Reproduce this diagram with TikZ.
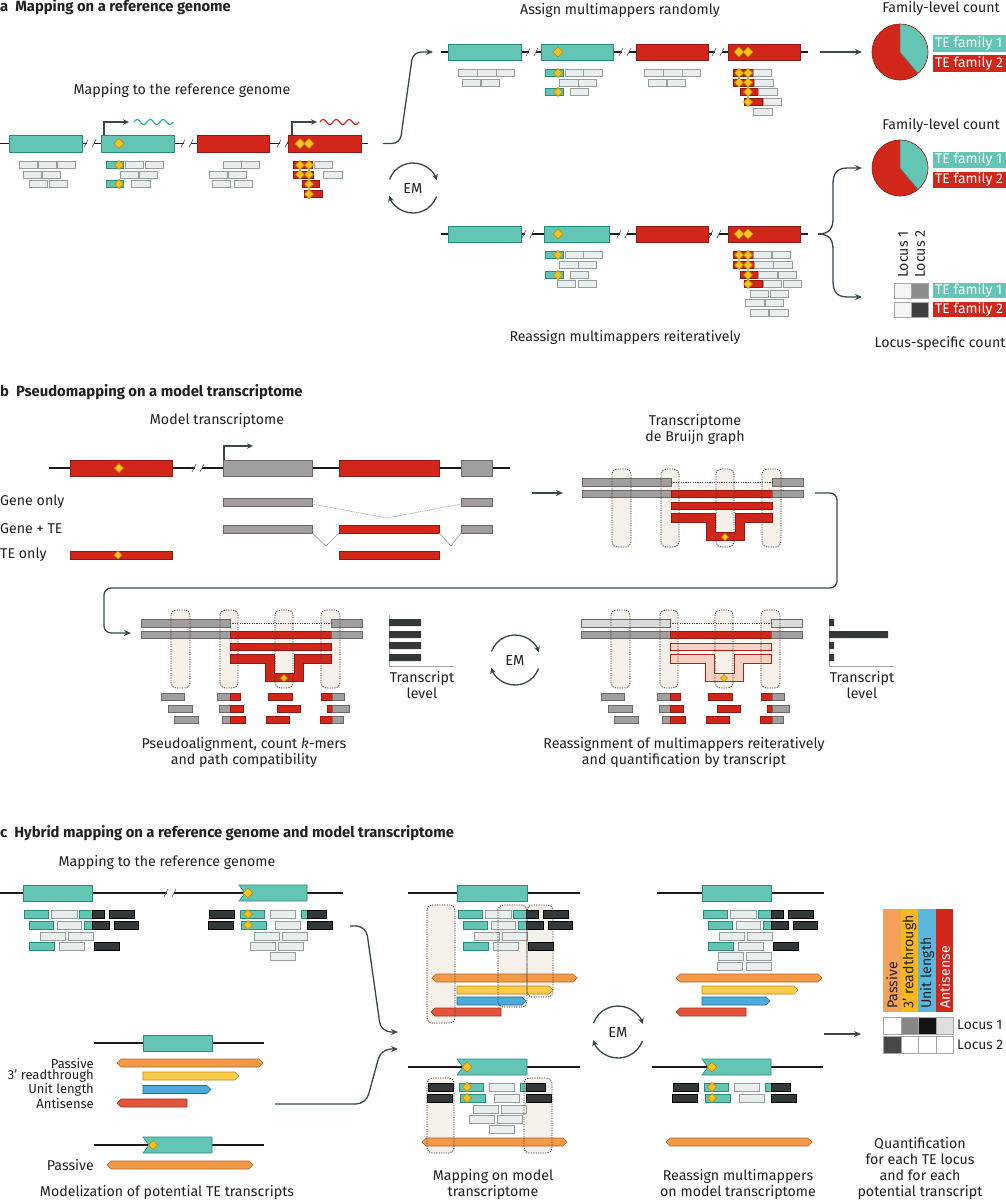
\documentclass[tikz,border=0pt]{standalone}
\usepackage{fontspec}
\setmainfont{Fira Sans}
\usetikzlibrary{arrows.meta}
\definecolor{tealF}{HTML}{63C6B5}
\definecolor{tealD}{HTML}{2A8A7C}
\definecolor{tealW}{HTML}{25B09E}
\definecolor{redF}{HTML}{D3261B}
\definecolor{redD}{HTML}{8E1A12}
\definecolor{grayF}{HTML}{A39E9E}
\definecolor{grayD}{HTML}{6E6969}
\definecolor{lgrayF}{HTML}{DCDADA}
\definecolor{lreadF}{HTML}{E9EFEF}
\definecolor{lreadD}{HTML}{979D9F}
\definecolor{darkF}{HTML}{33393B}
\definecolor{yelF}{HTML}{F7C31E}
\definecolor{yelD}{HTML}{B58700}
\definecolor{lineC}{HTML}{37474A}
\definecolor{beige}{HTML}{F5F0EA}
\definecolor{pinkF}{HTML}{F9D2C6}
\definecolor{orF}{HTML}{F39A48}
\definecolor{orD}{HTML}{B5642A}
\definecolor{ylF}{HTML}{FCCB47}
\definecolor{ylD}{HTML}{B08A1E}
\definecolor{blF}{HTML}{4DAADC}
\definecolor{blD}{HTML}{2A6A90}
\definecolor{rdaF}{HTML}{E3543A}
\definecolor{rdaD}{HTML}{9E3420}
\definecolor{txtC}{HTML}{231F20}
\definecolor{mPas}{HTML}{F4A259}
\definecolor{mRea}{HTML}{F6B81A}
\definecolor{mUni}{HTML}{5DB7DC}
\tikzset{
 gline/.style={line width=1.3pt, draw=black!90},
 tb/.style={fill=tealF, draw=tealD, line width=0.6pt},
 rb/.style={fill=redF, draw=redD, line width=0.6pt},
 gb/.style={fill=grayF, draw=grayD, line width=0.6pt},
 lgb/.style={fill=lgrayF, draw=grayD, line width=0.6pt},
 pkb/.style={fill=pinkF, draw=redF!85!black, line width=0.6pt},
 lr/.style={fill=lreadF, draw=lreadD, line width=0.6pt},
 dr/.style={fill=darkF, draw=black, line width=0.6pt},
 diam/.style={fill=yelF, draw=yelD, line width=0.5pt},
 conn/.style={draw=lineC, line width=1.3pt, -{Stealth[length=7pt,width=6pt]}},
 prom/.style={draw=lineC, line width=1.2pt, -{Stealth[length=6pt,width=5.5pt]}},
 emarc/.style={draw=lineC, line width=1.3pt, -{Stealth[length=6pt,width=6pt]}},
 txt/.style={font=\fontsize{14.2}{16}\selectfont, text=txtC, inner sep=0pt},
 mlab/.style={font=\fontsize{13}{13}\selectfont, text=txtC, inner sep=0pt, anchor=east},
 head/.style={font=\bfseries\fontsize{14.8}{16}\selectfont, text=txtC, inner sep=0pt, anchor=west},
 wlab/.style={font=\fontsize{14}{15}\selectfont, text=white, inner sep=0pt, anchor=west},
 beig/.style={fill=beige, rounded corners=5pt},
 dotr/.style={draw=black!75, dash pattern=on 1.2pt off 1.2pt, line width=0.8pt, rounded corners=5pt},
 dotl/.style={draw=black!75, dash pattern=on 1.2pt off 1.2pt, line width=0.7pt},
 vline/.style={draw=gray!80, line width=0.6pt},
 gdot/.style={draw=gray!80, dash pattern=on 1pt off 0.8pt, line width=0.6pt},
 slash/.style={draw=black!70, line width=0.6pt},
 ortr/.style={fill=orF, draw=orD, line width=0.6pt},
 yltr/.style={fill=ylF, draw=ylD, line width=0.6pt},
 bltr/.style={fill=blF, draw=blD, line width=0.6pt},
 rdtr/.style={fill=rdaF, draw=rdaD, line width=0.6pt},
 cell/.style={draw=gray!70, line width=0.6pt},
}
\def\hh{3.3}
\newcommand\Mbx[4]{\path[#1] (#2,#4-\hh) rectangle (#3,#4+\hh);}
\newcommand\Mblk[5]{\path[#1] (#2,#4) rectangle (#3,#5);}
\newcommand\Mnblk[5]{\path[#1] (#2,#4) -- (#3,#4) -- (#3,#5) -- (#2,#5) -- (#2+6,{(#4+#5)/2}) -- cycle;}
\newcommand\Mdia[3]{\path[diam] (#1,#2-#3) -- (#1+#3,#2) -- (#1,#2+#3) -- (#1-#3,#2) -- cycle;}
\newcommand\Mbrk[2]{\fill[white] (#1-3.5,#2-2) rectangle (#1+3.5,#2+2); \draw[slash] (#1-6,#2+4) -- (#1-2,#2-4) (#1+2,#2+4) -- (#1+6,#2-4);}
\newcommand\MtLR[4]{\path[#1] (#2,#4) -- (#2+4,#4-4) -- (#3-4,#4-4) -- (#3,#4) -- (#3-4,#4+4) -- (#2+4,#4+4) -- cycle;}
\newcommand\MtR[4]{\path[#1] (#2,#4-4) -- (#3-4,#4-4) -- (#3,#4) -- (#3-4,#4+4) -- (#2,#4+4) -- cycle;}
\newcommand\MtL[4]{\path[#1] (#2,#4) -- (#2+4,#4-4) -- (#3,#4-4) -- (#3,#4+4) -- (#2+4,#4+4) -- cycle;}
\newcommand\Mem[4]{\node[txt,font=\fontsize{14.5}{16}\selectfont] (#1) at (#2,#3) {EM};
 \draw[emarc] (#2,#3) ++(160:#4 pt) arc[start angle=160,end angle=18,radius=#4 pt];
 \draw[emarc] (#2,#3) ++(-20:#4 pt) arc[start angle=-20,end angle=-162,radius=#4 pt];}
\newcommand\Mpie[2]{\fill[redF] (#1,#2) circle[radius=28pt];
 \fill[tealF] (#1,#2) -- ++(90:28pt) arc[start angle=90,end angle=-50,radius=28pt] -- cycle;
 \draw[redD,line width=0.6pt] (#1,#2) circle[radius=28pt];
 \draw[tealD,line width=0.5pt] (#1,#2) ++(90:28pt) -- (#1,#2) -- ++(-50:28pt);}
\newcommand\Mgraph[2]{%
 \foreach \xa/\xb in {612/631,661/679,716/734,762/781}{\path[beig] (\xa,469) rectangle (\xb,547);}
 \Mblk{#1}{582}{671}{478}{486}\Mblk{#1}{772}{803}{478}{486}
 \draw[dotl] (671,482) -- (772,482);
 \Mblk{gb}{582}{671}{490}{497}\Mblk{rb}{671}{772}{490}{497}\Mblk{gb}{772}{803}{490}{497}
 \Mblk{#2}{671}{772}{502}{509}
 \path[#2] (671,513) -- (715,513) -- (715,532) -- (735,532) -- (735,513) -- (772,513) -- (772,522) -- (744,522) -- (744,540) -- (706,540) -- (706,522) -- (671,522) -- cycle;
 \Mdia{725}{537}{3.5}
 \foreach \xa/\xb in {612/631,661/679,716/734,762/781}{\path[dotr] (\xa,469) rectangle (\xb,547);}
}
\newcommand\Mbreads{%
 \Mbx{gb}{161}{184}{697}\Mbx{gb}{168}{192}{709}\Mbx{gb}{174}{198}{720}
 \Mbx{gb}{217}{230}{697}\Mbx{rb}{230}{240}{697}
 \Mbx{gb}{219}{230}{709}\Mbx{rb}{230}{243}{709}
 \Mbx{gb}{222}{230}{720}\Mbx{rb}{230}{245}{720}
 \Mbx{rb}{268}{292}{697}\Mbx{rb}{277}{300}{709}\Mbx{rb}{266}{289}{720}
 \Mbx{rb}{321}{332}{697}\Mbx{gb}{332}{344}{697}
 \Mbx{rb}{327}{332}{709}\Mbx{gb}{332}{349}{709}
 \Mbx{rb}{320}{332}{720}\Mbx{gb}{332}{343}{720}}
\newcommand\McA{%
 \Mbx{tb}{24}{48}{914}\Mbx{lr}{51}{77}{914}\Mbx{tb}{79}{92}{914}\Mbx{dr}{92}{104}{914}\Mbx{dr}{109}{134}{914}
 \Mbx{tb}{29}{53}{925}\Mbx{lr}{57}{81}{925}\Mbx{tb}{84}{92}{925}\Mbx{dr}{92}{109}{925}\Mbx{dr}{114}{138}{925}
 \Mbx{lr}{40}{65}{936}\Mbx{lr}{68}{93}{936}
 \Mbx{tb}{29}{54}{946}\Mbx{lr}{59}{84}{946}\Mbx{dr}{94}{119}{946}}
\newcommand\McBt{%
 \Mbx{dr}{209}{234}{914}\Mbx{tb}{240}{264}{914}\Mdia{248}{914}{4.5}\Mbx{lr}{270}{295}{914}\Mbx{tb}{301}{307}{914}\Mbx{dr}{307}{326}{914}
 \Mbx{dr}{208}{233}{925}\Mbx{tb}{241}{266}{925}\Mdia{248}{925}{4.5}\Mbx{lr}{275}{300}{925}\Mbx{dr}{307}{332}{925}}
\newcommand\McBb{%
 \Mbx{lr}{254}{279}{936}\Mbx{lr}{282}{307}{936}
 \Mbx{lr}{250}{275}{946}\Mbx{lr}{278}{303}{946}
 \Mbx{lr}{270}{295}{956}}
\begin{document}
\begin{tikzpicture}[x=1pt,y=-1pt]
\fill[white] (0,0) rectangle (1006,1200);
\useasboundingbox (0,0) rectangle (1006,1200);
%%%%%%%%%%%%%%%%%%%% a
\node[head] (hA) at (0,7) {a\hspace{7pt}Mapping on a reference genome};
\node[txt] (tA1) at (182,90) {Mapping to the reference genome};
\node[txt] (tA2) at (620,10) {Assign multimappers randomly};
\node[txt] (tA3) at (625,337) {Reassign multimappers reiteratively};
\node[txt] (tA4) at (941,8) {Family-level count};
\node[txt] (tA5) at (941,125) {Family-level count};
\node[txt] (tA6) at (940,343) {Locus-specific count};
% left genome
\draw[gline] (0,143.5) -- (368,143.5);
\Mbrk{90}{143.5}\Mbrk{187}{143.5}\Mbrk{283}{143.5}
\Mblk{tb}{9}{82}{135}{152}\Mblk{tb}{101}{174}{135}{152}
\Mblk{rb}{197}{269}{135}{152}\Mblk{rb}{288}{361}{135}{152}
\Mdia{119}{143.5}{5}\Mdia{300}{143.5}{5}\Mdia{309}{143.5}{5}
\draw[prom] (104,135) |- (129,122);
\draw[prom] (292,135) |- (317,122);
\draw[tealW,line width=1.2pt] plot[domain=0:39,samples=60] ({134+\x},{122-2.5*sin(\x*360/13)});
\draw[redF,line width=1.2pt] plot[domain=0:39,samples=60] ({320+\x},{122-2.5*sin(\x*360/13)});
\Mbx{lr}{19}{37}{165}\Mbx{lr}{38}{56}{165}\Mbx{lr}{57}{75}{165}
\Mbx{lr}{23}{41}{174.5}\Mbx{lr}{42}{60}{174.5}
\Mbx{lr}{29}{47}{184}\Mbx{lr}{49}{67}{184}
\Mbx{tb}{106}{123}{165}\Mdia{119}{165}{4.5}\Mbx{lr}{125}{143}{165}\Mbx{lr}{145}{163}{165}
\Mbx{lr}{120}{138}{174.5}\Mbx{lr}{139}{157}{174.5}
\Mbx{tb}{106}{123}{184}\Mdia{119}{184}{4.5}\Mbx{lr}{131}{150}{184}
\Mbx{lr}{223}{241}{165}\Mbx{lr}{241}{259}{165}
\Mbx{lr}{209}{227}{174.5}\Mbx{lr}{228}{246}{174.5}
\Mbx{lr}{212}{230}{184}\Mbx{lr}{234}{252}{184}
\Mbx{rb}{293}{312}{165}\Mdia{300}{165}{4.5}\Mdia{309}{165}{4.5}\Mbx{lr}{314}{332}{165}
\Mbx{rb}{293}{313}{174.5}\Mdia{300}{174.5}{4.5}\Mdia{309}{174.5}{4.5}\Mbx{lr}{323}{342}{174.5}
\Mbx{rb}{302}{319}{184}\Mdia{309}{184}{4.5}
\Mbx{rb}{304}{322}{194}\Mdia{309}{194}{4.5}
% arrow to top
\coordinate (aS) at (383,143.5);
\coordinate (aE) at (433,52);
\draw[conn,rounded corners=8pt] (aS) -- (400,143.5) -- (413,52) -- (aE);
% top genome
\draw[gline] (441,52) -- (808,52);
\Mbrk{532}{52}\Mbrk{625}{52}\Mbrk{718}{52}
\Mblk{tb}{448}{521}{44}{60}\Mblk{tb}{541}{613}{44}{60}
\Mblk{rb}{636}{708}{44}{60}\Mblk{rb}{728}{800}{44}{60}
\Mdia{558}{52}{5}\Mdia{739}{52}{5}\Mdia{748}{52}{5}
\Mbx{lr}{458}{477}{73}\Mbx{lr}{477}{496}{73}\Mbx{lr}{496}{514}{73}
\Mbx{lr}{462}{480}{82.5}\Mbx{lr}{481}{499}{82.5}
\Mbx{tb}{545}{563}{73}\Mdia{558}{73}{4.5}\Mbx{lr}{565}{583}{73}\Mbx{lr}{583}{602}{73}
\Mbx{lr}{559}{578}{82.5}\Mbx{lr}{578}{596}{82.5}
\Mbx{tb}{545}{563}{92}\Mdia{558}{92}{4.5}\Mbx{lr}{570}{588}{92}
\Mbx{lr}{644}{663}{73}\Mbx{lr}{663}{682}{73}\Mbx{lr}{682}{700}{73}
\Mbx{lr}{648}{666}{82.5}\Mbx{lr}{667}{685}{82.5}
\Mbx{rb}{733}{753}{73}\Mdia{739}{73}{4.5}\Mdia{748}{73}{4.5}\Mbx{lr}{753}{771}{73}
\Mbx{rb}{733}{754}{82.5}\Mdia{739}{82.5}{4.5}\Mdia{748}{82.5}{4.5}\Mbx{lr}{754}{773}{82.5}
\Mbx{rb}{740}{758}{92}\Mdia{748}{92}{4.5}\Mbx{lr}{758}{777}{92}
\Mbx{rb}{744}{762}{102}\Mdia{748}{102}{4.5}\Mbx{lr}{763}{781}{102}
\Mbx{lr}{753}{772}{112}
% bottom genome
\draw[gline] (441,234) -- (808,234);
\Mbrk{528}{234}\Mbrk{623}{234}\Mbrk{715}{234}
\Mblk{tb}{448}{521}{226}{242}\Mblk{tb}{544}{609}{226}{242}
\Mblk{rb}{636}{708}{226}{242}\Mblk{rb}{728}{800}{226}{242}
\Mdia{558}{234}{5}\Mdia{739}{234}{5}\Mdia{748}{234}{5}
\Mbx{tb}{545}{563}{255}\Mdia{558}{255}{4.5}\Mbx{lr}{565}{583}{255}\Mbx{lr}{583}{602}{255}
\Mbx{lr}{559}{578}{265}\Mbx{lr}{578}{596}{265}
\Mbx{tb}{545}{563}{275}\Mdia{558}{275}{4.5}\Mbx{lr}{570}{588}{275}
\Mbx{lr}{557}{575}{284}\Mbx{lr}{578}{596}{284}
\Mbx{rb}{733}{753}{255}\Mdia{739}{255}{4.5}\Mdia{748}{255}{4.5}\Mbx{lr}{753}{771}{255}\Mbx{lr}{772}{790}{255}
\Mbx{rb}{733}{754}{265}\Mdia{739}{265}{4.5}\Mdia{748}{265}{4.5}\Mbx{lr}{754}{773}{265}\Mbx{lr}{773}{792}{265}
\Mbx{rb}{740}{758}{275}\Mdia{748}{275}{4.5}\Mbx{lr}{758}{777}{275}\Mbx{lr}{778}{796}{275}
\Mbx{rb}{744}{762}{284}\Mdia{748}{284}{4.5}\Mbx{lr}{763}{781}{284}\Mbx{lr}{783}{801}{284}
\Mbx{lr}{750}{768}{294}\Mbx{lr}{770}{788}{294}
\Mbx{lr}{745}{764}{303}\Mbx{lr}{765}{783}{303}
\Mbx{lr}{750}{768}{313}\Mbx{lr}{769}{788}{313}
\Mem{emA}{413}{188}{25}
% right side
\coordinate (pS) at (820,52); \coordinate (pE) at (862,52);
\draw[conn] (pS) -- (pE);
\Mpie{900}{52}
\Mpie{900}{168}
\fill[tealF] (933,35) rectangle (1006,52); \node[wlab] (f1a) at (935,43.5) {TE family 1};
\fill[redF] (933,55) rectangle (1006,72); \node[wlab] (f2a) at (935,63.5) {TE family 2};
\fill[tealF] (933,152) rectangle (1006,168); \node[wlab] (f1b) at (935,160) {TE family 1};
\fill[redF] (933,172) rectangle (1006,188); \node[wlab] (f2b) at (935,180) {TE family 2};
\fill[tealF] (933,283) rectangle (1006,298); \node[wlab] (f1c) at (935,290.5) {TE family 1};
\fill[redF] (933,302) rectangle (1006,317); \node[wlab] (f2c) at (935,309.5) {TE family 2};
\path[cell,fill=gray!8] (894,283) rectangle (911,298);
\path[cell,fill=gray!90] (911,283) rectangle (928,298);
\path[cell,fill=gray!8] (894,302) rectangle (911,317);
\path[cell,fill=black!75] (911,302) rectangle (928,317);
\node[txt,rotate=90,anchor=west] (loc1) at (903,278) {Locus 1};
\node[txt,rotate=90,anchor=west] (loc2) at (920,278) {Locus 2};
\coordinate (bS) at (818,234);
\draw[conn] (bS) .. controls (830,234) and (833,228) .. (833,218) -- (833,184) .. controls (833,172) and (838,168) .. (848,168) -- (862,168);
\draw[conn] (bS) .. controls (830,234) and (833,240) .. (833,250) -- (833,281) .. controls (833,293) and (838,297) .. (848,297) -- (862,297);
%%%%%%%%%%%%%%%%%%%% b
\node[head] (hB) at (0,392) {b\hspace{7pt}Pseudomapping on a model transcriptome};
\node[txt] (tB1) at (217,420) {Model transcriptome};
\draw[gline] (49,468) -- (510,468);
\Mbrk{198}{468}
\Mblk{rb}{70}{172}{460}{476}\Mdia{119}{468}{4.5}
\Mblk{gb}{223}{312}{460}{476}\Mblk{rb}{339}{439}{460}{476}\Mblk{gb}{461}{492}{460}{476}
\draw[prom] (224,460) |- (253,446);
\node[txt,anchor=west] (gO) at (0,502) {Gene only};
\node[txt,anchor=west] (gT) at (0,529) {Gene + TE};
\node[txt,anchor=west] (tO) at (0,555) {TE only};
\Mblk{gb}{223}{312}{498}{506}\Mblk{gb}{461}{492}{498}{506}
\draw[gdot] (312,504) -- (387,518) -- (461,504);
\Mblk{gb}{223}{312}{525}{533}\Mblk{rb}{339}{439}{525}{533}\Mblk{gb}{461}{492}{525}{533}
\draw[vline] (312,533) -- (326,546) -- (339,533) (439,533) -- (451,546) -- (461,533);
\Mblk{rb}{70}{172}{551}{559}\Mdia{118}{555}{4}
\Mblk{rb}{339}{439}{551}{559}
\coordinate (cS) at (532,493); \coordinate (cE) at (563,493);
\draw[conn] (cS) -- (cE);
\node[txt,align=center] (tB2) at (695,429) {Transcriptome\\de Bruijn graph};
\Mgraph{gb}{rb}
\coordinate (dS) at (815,493); \coordinate (dE) at (131,633);
\draw[conn,rounded corners=7pt] (dS) -- (837,493) -- (837,588) -- (104,588) -- (104,633) -- (dE);
\begin{scope}[shift={(-441,141)}]\Mgraph{gb}{rb}\end{scope}
\begin{scope}[shift={(-1,141)}]\Mgraph{lgb}{pkb}\end{scope}
\def\hh{3.6}
\Mbreads
\begin{scope}[shift={(440,0)}]\Mbreads\end{scope}
% transcript levels
\draw[draw=gray!70,line width=0.8pt] (389,615) -- (389,666) -- (454,666);
\fill[darkF] (389,619) rectangle (421,626) (389,631) rectangle (421,638) (389,642) rectangle (421,649) (389,654) rectangle (421,661);
\node[txt,align=center] (tl1) at (422,685) {Transcript\\level};
\draw[draw=gray!70,line width=0.8pt] (829,615) -- (829,666) -- (894,666);
\fill[darkF] (829,619) rectangle (834,626) (829,631) rectangle (888,638) (829,642) rectangle (834,649) (829,654) rectangle (834,661);
\node[txt,align=center] (tl2) at (862,685) {Transcript\\level};
\Mem{emB}{515}{660}{25}
\node[txt,align=center] (capB1) at (244,752) {Pseudoalignment, count \textit{k}-mers\\and path compatibility};
\node[txt,align=center] (capB2) at (684,752) {Reassignment of multimappers reiteratively\\and quantification by transcript};
%%%%%%%%%%%%%%%%%%%% c
\node[head] (hC) at (0,833) {c\hspace{7pt}Hybrid mapping on a reference genome and model transcriptome};
\node[txt] (tC1) at (167,862) {Mapping to the reference genome};
\def\hh{4}
\draw[gline] (0,893) -- (343,893);
\Mbrk{170}{893}
\Mblk{tb}{23}{92}{885}{901}
\Mnblk{tb}{239}{307}{885}{901}\Mdia{248}{893}{5}
\McA \McBt \McBb
% modelization
\draw[gline] (94,1043) -- (264,1043);
\Mblk{tb}{143}{212}{1035}{1051}
\node[mlab] (mP) at (94,1063) {Passive};
\node[mlab] (mR) at (94,1076.3) {3’ readthrough};
\node[mlab] (mU) at (94,1089.6) {Unit length};
\node[mlab] (mA) at (94,1103) {Antisense};
\MtLR{ortr}{117}{263}{1063}
\MtR{yltr}{143}{239}{1076}
\MtR{bltr}{143}{211}{1089.5}
\MtL{rdtr}{117}{187}{1103}
\draw[gline] (94,1145) -- (264,1145);
\Mnblk{tb}{143}{212}{1137}{1153}\Mdia{153}{1145}{4.5}
\node[txt,anchor=east] (mP2) at (94,1165) {Passive};
\MtLR{ortr}{107}{253}{1165}
\node[txt] (tC2) at (167,1192) {Modelization of potential TE transcripts};
% connectors to middle
\coordinate (eS) at (350,926); \coordinate (eE) at (398,1032);
\draw[conn,rounded corners=10pt] (eS) -- (366,926) -- (381,1032) -- (eE);
\coordinate (fS) at (275,1104); \coordinate (fE) at (398,1049);
\draw[conn,rounded corners=10pt] (fS) -- (366,1104) -- (381,1049) -- (fE);
% middle top
\path[beig] (427,905) rectangle (455,1023);
\path[beig] (498,905) rectangle (527,1007);
\path[beig] (527,905) rectangle (553,997);
\draw[gline] (408,893) -- (580,893);
\Mblk{tb}{457}{527}{885}{901}
\begin{scope}[shift={(434,0)}]\McA\end{scope}
\MtLR{ortr}{432}{577}{978}
\MtR{yltr}{457}{553}{990}
\MtR{bltr}{457}{526}{1001}
\MtL{rdtr}{431}{501}{1012}
\path[dotr] (427,905) rectangle (455,1023);
\path[dotr] (498,905) rectangle (527,1007);
\path[dotr] (527,905) rectangle (553,997);
% middle bottom
\path[beig] (427,1078) rectangle (454,1153);
\path[beig] (524,1078) rectangle (552,1153);
\draw[gline] (408,1067) -- (580,1067);
\Mnblk{tb}{457}{527}{1059}{1075}\Mdia{467}{1067}{5}
\begin{scope}[shift={(219,173)}]\McBt\McBb\end{scope}
\MtLR{ortr}{422}{567}{1142}
\path[dotr] (427,1078) rectangle (454,1153);
\path[dotr] (524,1078) rectangle (552,1153);
\node[txt,align=center] (capC2) at (493,1184) {Mapping on model\\transcriptome};
% right top
\draw[gline] (657,893) -- (824,893);
\Mblk{tb}{702}{771}{885}{901}
\begin{scope}[shift={(679,0)}]\McA
 \Mbx{lr}{39}{64}{956}\Mbx{lr}{67}{92}{956}\Mbx{lr}{38}{63}{966}\Mbx{lr}{67}{92}{966}\end{scope}
\MtLR{ortr}{676}{822}{978}
\MtR{yltr}{702}{798}{990}
\MtR{bltr}{702}{770}{1001}
\MtL{rdtr}{676}{746}{1012}
% right bottom
\draw[gline] (652,1067) -- (823,1067);
\Mnblk{tb}{702}{771}{1059}{1075}\Mdia{712}{1067}{5}
\begin{scope}[shift={(464,173)}]\McBt\end{scope}
\MtLR{ortr}{666}{812}{1142}
\node[txt,align=center] (capC3) at (738,1184) {Reassign multimappers\\on model transcriptome};
\Mem{emC}{618}{1032}{26}
\coordinate (gS) at (824,1034); \coordinate (gE) at (861,1034);
\draw[conn] (gS) -- (gE);
% matrix
\fill[mPas] (883,909) rectangle (901,1012);
\fill[mRea] (901,909) rectangle (918,1012);
\fill[mUni] (918,909) rectangle (936,1012);
\fill[redF] (936,909) rectangle (953,1012);
\node[txt,rotate=90,anchor=west] (hP) at (892,1009) {Passive};
\node[txt,rotate=90,anchor=west] (hR) at (909.5,1009) {3’ readthrough};
\node[txt,rotate=90,anchor=west] (hU) at (927,1009) {Unit length};
\node[txt,rotate=90,anchor=west,text=white] (hAS) at (944.5,1009) {Antisense};
\path[cell,fill=white] (883,1017) rectangle (901,1034);
\path[cell,fill=gray!95] (901,1017) rectangle (918,1034);
\path[cell,fill=black!92] (918,1017) rectangle (936,1034);
\path[cell,fill=gray!25] (936,1017) rectangle (953,1034);
\path[cell,fill=black!72] (883,1036) rectangle (901,1053);
\path[cell,fill=white] (901,1036) rectangle (918,1053);
\path[cell,fill=white] (918,1036) rectangle (936,1053);
\path[cell,fill=white] (936,1036) rectangle (953,1053);
\node[txt,anchor=west,font=\fontsize{13.8}{15}\selectfont] (lc1) at (957,1025) {Locus 1};
\node[txt,anchor=west,font=\fontsize{13.8}{15}\selectfont] (lc2) at (957,1045) {Locus 2};
\node[txt,align=center] (capC4) at (920,1168.5) {Quantification\\for each TE locus\\and for each\\potential transcript};
\end{tikzpicture}
\end{document}
